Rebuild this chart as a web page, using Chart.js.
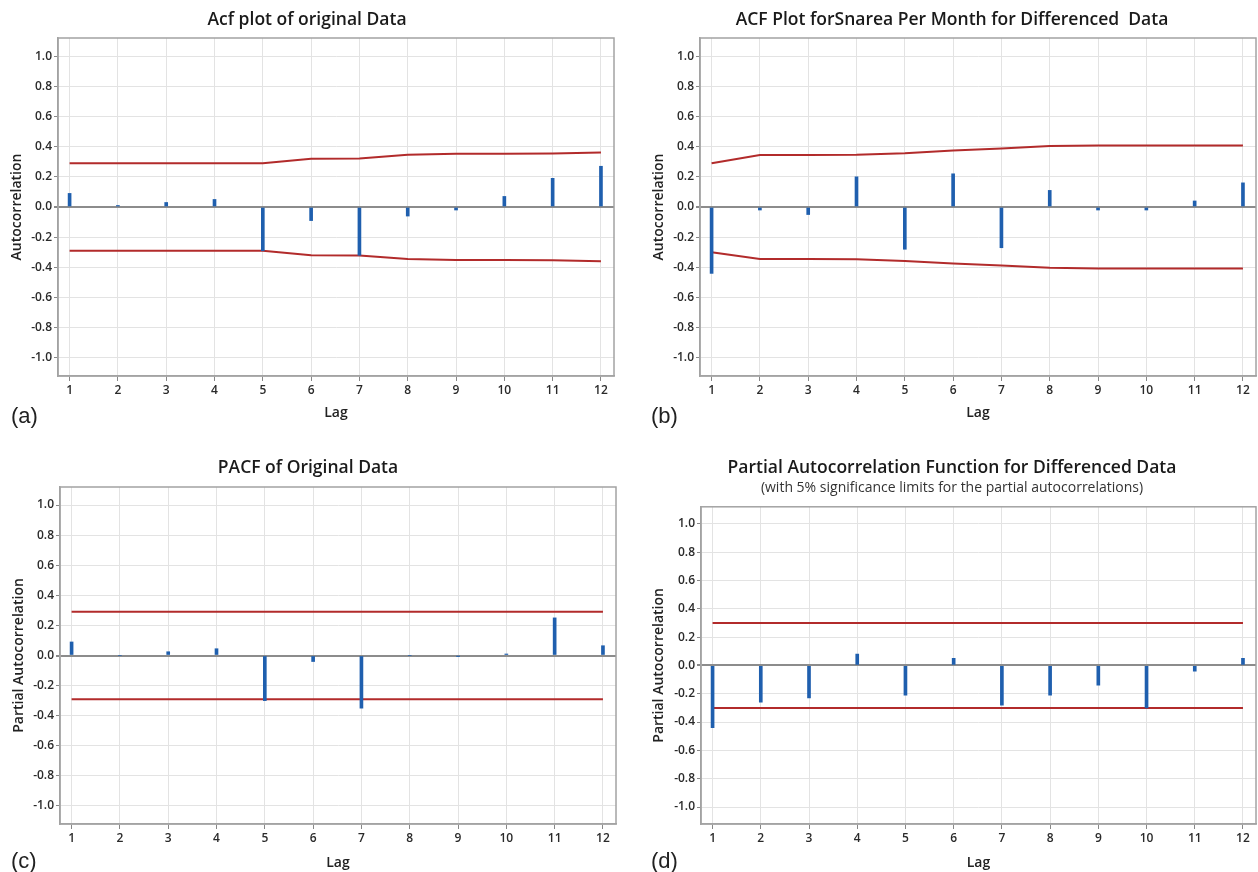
<!DOCTYPE html>
<html>
<head>
<meta charset="utf-8">
<title>ACF and PACF plots</title>
<script src="https://cdn.jsdelivr.net/npm/chart.js@4.4.0/dist/chart.umd.min.js"></script>
<style>
  body { margin: 0; background: #fff; }
  #wrap { position: relative; width: 1258px; height: 872px; overflow: hidden; background: #fff; }
  .panel { position: absolute; }
  .tag { position: absolute; font-family: "Liberation Sans", Arial, sans-serif; font-size: 22px; color: #222; line-height: 25px; }
</style>
</head>
<body>
<div id="wrap">
  <div class="panel" style="left:0;top:0"><canvas id="chartA" width="630" height="425"></canvas></div>
  <div class="panel" style="left:640px;top:0"><canvas id="chartB" width="618" height="425"></canvas></div>
  <div class="panel" style="left:0;top:430px"><canvas id="chartC" width="630" height="442"></canvas></div>
  <div class="panel" style="left:640px;top:430px"><canvas id="chartD" width="618" height="442"></canvas></div>
  <div class="tag" style="left:11px;top:403px">(a)</div>
  <div class="tag" style="left:651px;top:403px">(b)</div>
  <div class="tag" style="left:11px;top:848px">(c)</div>
  <div class="tag" style="left:651px;top:848px">(d)</div>
</div>

<script>
const lags = [1, 2, 3, 4, 5, 6, 7, 8, 9, 10, 11, 12];

// (a) ACF of original data + 5% limits
const acfOriginal = [0.09, 0.01, 0.03, 0.05, -0.29, -0.09, -0.32, -0.06, -0.02, 0.07, 0.19, 0.27];
const acfOriginalUpper = [0.29, 0.29, 0.29, 0.29, 0.29, 0.32, 0.322, 0.347, 0.353, 0.353, 0.354, 0.362];
const acfOriginalLower = [-0.29, -0.29, -0.29, -0.29, -0.29, -0.32, -0.322, -0.345, -0.352, -0.352, -0.353, -0.36];

// (b) ACF of differenced data
const acfDiff = [-0.44, -0.02, -0.05, 0.20, -0.28, 0.22, -0.27, 0.11, -0.02, -0.02, 0.04, 0.16];
const acfDiffUpper = [0.29, 0.345, 0.345, 0.347, 0.357, 0.375, 0.387, 0.405, 0.407, 0.407, 0.407, 0.407];
const acfDiffLower = [-0.30, -0.345, -0.345, -0.347, -0.358, -0.375, -0.387, -0.402, -0.407, -0.407, -0.407, -0.407];

// (c) PACF of original data
const pacfOriginal = [0.09, 0.0, 0.025, 0.045, -0.30, -0.04, -0.35, 0.0, -0.004, 0.01, 0.25, 0.065];
const pacfOriginalUpper = [0.29, 0.29, 0.29, 0.29, 0.29, 0.29, 0.29, 0.29, 0.29, 0.29, 0.29, 0.29];
const pacfOriginalLower = [-0.29, -0.29, -0.29, -0.29, -0.29, -0.29, -0.29, -0.29, -0.29, -0.29, -0.29, -0.29];

// (d) PACF of differenced data
const pacfDiff = [-0.44, -0.26, -0.23, 0.08, -0.21, 0.05, -0.28, -0.21, -0.14, -0.30, -0.04, 0.05];
const pacfDiffUpper = [0.30, 0.30, 0.30, 0.30, 0.30, 0.30, 0.30, 0.30, 0.30, 0.30, 0.30, 0.30];
const pacfDiffLower = [-0.30, -0.30, -0.30, -0.30, -0.30, -0.30, -0.30, -0.30, -0.30, -0.30, -0.30, -0.30];

const spikeBlue = '#1f5fae';
const limitRed = '#b22b2b';
const gridGray = '#e3e3e3';
const zeroGray = '#8c8c8c';
const frameGray = '#a3a3a3';
const fontFamily = '"Open Sans", "Noto Sans", sans-serif';

function toPoints(values) {
  return lags.map((lag, i) => ({ x: lag, y: values[i] }));
}

// Minitab style box round the plot area
const framePlugin = {
  id: 'frame',
  afterDraw(chart) {
    const { ctx, chartArea } = chart;
    ctx.save();
    ctx.strokeStyle = frameGray;
    ctx.lineWidth = 1.5;
    ctx.strokeRect(chartArea.left, chartArea.top, chartArea.right - chartArea.left, chartArea.bottom - chartArea.top);
    ctx.restore();
  }
};

function buildChart(id, opts) {
  const limitStyle = {
    type: 'line',
    borderColor: limitRed,
    borderWidth: 2,
    pointRadius: 0,
    tension: 0,
    order: 2
  };

  return new Chart(document.getElementById(id), {
    type: 'bar',
    data: {
      datasets: [
        { type: 'bar', data: toPoints(opts.values), backgroundColor: spikeBlue, barThickness: 3, order: 1 },
        Object.assign({ data: toPoints(opts.upper) }, limitStyle),
        Object.assign({ data: toPoints(opts.lower) }, limitStyle)
      ]
    },
    options: {
      responsive: false,
      animation: false,
      layout: { padding: opts.padding },
      plugins: {
        legend: { display: false },
        tooltip: { enabled: false },
        title: {
          display: true,
          text: opts.title,
          color: '#1a1a1a',
          font: { family: fontFamily, size: 17.5, weight: '600' },
          padding: opts.titlePadding
        },
        subtitle: {
          display: !!opts.subtitle,
          text: opts.subtitle || '',
          color: '#333',
          font: { family: fontFamily, size: 14, weight: 'normal' },
          padding: opts.subtitlePadding || 0
        }
      },
      scales: {
        x: {
          type: 'linear',
          min: 0.76,
          max: 12.27,
          offset: false,
          afterFit: (scale) => { scale.height = opts.xHeight; },
          ticks: {
            stepSize: 1,
            includeBounds: false,
            padding: 2,
            color: '#2a2a2a',
            font: { family: fontFamily, size: 12, weight: '600' }
          },
          grid: { offset: false, color: gridGray, tickColor: '#888', tickLength: 5 },
          border: { color: frameGray, width: 1.5 },
          title: {
            display: true,
            text: 'Lag',
            color: '#222',
            font: { family: fontFamily, size: 14, weight: '600' },
            padding: { top: 0, bottom: opts.lagPad }
          }
        },
        y: {
          min: -1.12,
          max: 1.12,
          afterFit: (scale) => { scale.width = opts.yWidth; },
          ticks: {
            stepSize: 0.2,
            includeBounds: false,
            padding: 2,
            color: '#2a2a2a',
            font: { family: fontFamily, size: 12, weight: '600' },
            callback: (v) => v.toFixed(1)
          },
          grid: {
            color: (ctx) => (ctx.tick && Math.abs(ctx.tick.value) < 1e-9 ? zeroGray : gridGray),
            lineWidth: (ctx) => (ctx.tick && Math.abs(ctx.tick.value) < 1e-9 ? 2 : 1),
            tickColor: '#888',
            tickLength: 4
          },
          border: { color: frameGray, width: 1.5 },
          title: {
            display: true,
            text: opts.yTitle,
            color: '#222',
            font: { family: fontFamily, size: 14, weight: '600' },
            padding: { top: opts.yTitlePad, bottom: 0 }
          }
        }
      }
    },
    plugins: [framePlugin]
  });
}

buildChart('chartA', {
  title: 'Acf plot of original Data',
  yTitle: 'Autocorrelation',
  values: acfOriginal, upper: acfOriginalUpper, lower: acfOriginalLower,
  padding: { left: 0, right: 16, top: 0, bottom: 0 },
  titlePadding: { top: 9.5, bottom: 7.5 },
  yWidth: 58, yTitlePad: 9,
  xHeight: 49, lagPad: 4
});

buildChart('chartB', {
  title: 'ACF Plot forSnarea Per Month for Differenced  Data',
  yTitle: 'Autocorrelation',
  values: acfDiff, upper: acfDiffUpper, lower: acfDiffLower,
  padding: { left: 8, right: 2, top: 0, bottom: 0 },
  titlePadding: { top: 9.5, bottom: 7.5 },
  yWidth: 52, yTitlePad: 3,
  xHeight: 49, lagPad: 4
});

buildChart('chartC', {
  title: 'PACF of Original Data',
  yTitle: 'Partial Autocorrelation',
  values: pacfOriginal, upper: pacfOriginalUpper, lower: pacfOriginalLower,
  padding: { left: 0, right: 14, top: 0, bottom: 0 },
  titlePadding: { top: 27.5, bottom: 8.5 },
  yWidth: 60, yTitlePad: 11,
  xHeight: 48, lagPad: 1
});

buildChart('chartD', {
  title: 'Partial Autocorrelation Function for Differenced Data',
  subtitle: '(with 5% significance limits for the partial autocorrelations)',
  yTitle: 'Partial Autocorrelation',
  values: pacfDiff, upper: pacfDiffUpper, lower: pacfDiffLower,
  padding: { left: 8, right: 2, top: 0, bottom: 0 },
  titlePadding: { top: 27.5, bottom: 0 },
  subtitlePadding: { top: 1, bottom: 10.5 },
  yWidth: 53, yTitlePad: 3,
  xHeight: 48, lagPad: 1
});
</script>
</body>
</html>
